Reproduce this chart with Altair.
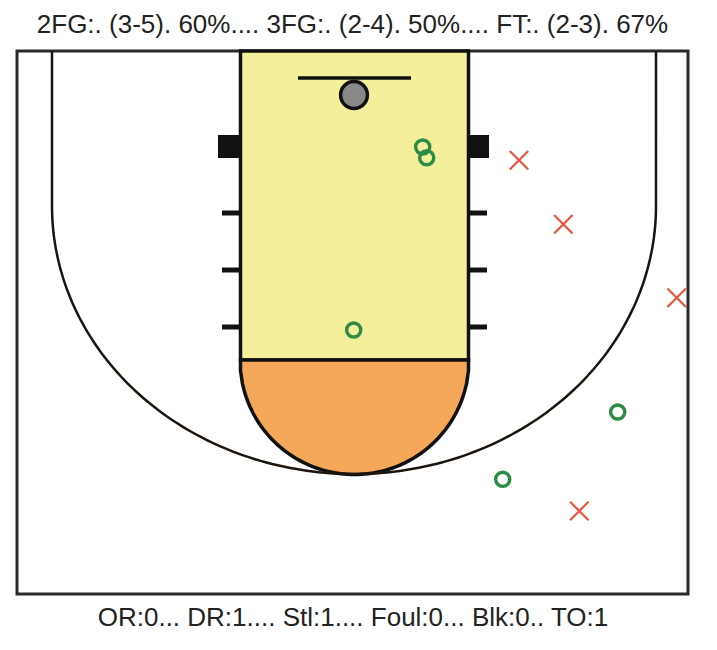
import altair as alt
import numpy as np
import pandas as pd

# Court drawn in plot units (1 unit = 1 px of the 671 x 543 plot area), y measured down from the baseline
COURT_W, COURT_H = 671, 543
LANE_X = [223.5, 451.5]
LANE_Y = [0, 309]
FT_CX, FT_R = 337.5, 114.5
BACKBOARD_X = [281, 394]
BACKBOARD_Y = [27]
RIM_X, RIM_Y = [337], [44]
BLOCK_X = [[201, 223.5], [451.5, 472]]
BLOCK_Y = [84, 107]
HASH_Y = [162, 219, 276]
HASH_X = [[205, 223.5], [451.5, 470]]
THREE_X = [35, 639]
THREE_CORNER_Y = 155
THREE_BOTTOM = 423

# Shots
made_x = [405.7, 409.7, 336.7, 600.7, 485.7]
made_y = [96.0, 106.7, 279.0, 361.0, 428.3]
miss_x = [502.0, 546.3, 659.7, 562.3]
miss_y = [109.3, 173.3, 246.7, 460.0]

title_text = "2FG:. (3-5). 60%.... 3FG:. (2-4). 50%.... FT:. (2-3). 67%"
footer_text = "OR:0... DR:1.... Stl:1.... Foul:0... Blk:0.. TO:1"

FONT = "Liberation Sans"

xscale = alt.Scale(domain=[0, COURT_W], nice=False, zero=False)
yscale = alt.Scale(domain=[0, COURT_H], nice=False, zero=False, reverse=True)
xaxis = alt.Axis(title=footer_text, labels=False, ticks=False, domain=False, grid=False,
                 titleFontSize=26, titleFont=FONT, titleFontWeight="normal",
                 titleColor="#222222", titlePadding=10)


def X(f="x"):
    return alt.X(f"{f}:Q", scale=xscale, axis=xaxis)


def Y(f="y"):
    return alt.Y(f"{f}:Q", scale=yscale, axis=None)


lane_df = pd.DataFrame({"x": [LANE_X[0]], "x2": [LANE_X[1]], "y": [LANE_Y[0]], "y2": [LANE_Y[1]]})
lane = alt.Chart(lane_df).mark_rect(fill="#F3EF9B", stroke="#111111", strokeWidth=3.5).encode(
    x=X(), x2="x2:Q", y=Y(), y2="y2:Q")

fx = np.linspace(LANE_X[0], LANE_X[1], 121)
fy = LANE_Y[1] + np.sqrt(np.clip(FT_R ** 2 - (fx - FT_CX) ** 2, 0, None))
ft_df = pd.DataFrame({"x": fx, "y": fy, "y2": LANE_Y[1]})
ft = alt.Chart(ft_df).mark_area(fill="#F5A85A", stroke="#111111", strokeWidth=3.5).encode(
    x=X(), y=Y(), y2="y2:Q")

cx = (THREE_X[0] + THREE_X[1]) / 2
a = (THREE_X[1] - THREE_X[0]) / 2
b = THREE_BOTTOM - THREE_CORNER_Y
t = np.linspace(0, np.pi, 161)
ax_ = cx - a * np.cos(t)
ay_ = THREE_CORNER_Y + b * np.sin(t)
tx = np.concatenate([[THREE_X[0]], ax_, [THREE_X[1]]])
ty = np.concatenate([[0], ay_, [0]])
three_df = pd.DataFrame({"x": tx, "y": ty, "o": np.arange(len(tx))})
three = alt.Chart(three_df).mark_line(color="#1c150d", strokeWidth=2.5).encode(
    x=X(), y=Y(), order="o:Q")

hash_rows = [{"x": hx[0], "x2": hx[1], "y": hy} for hx in HASH_X for hy in HASH_Y]
hashes = alt.Chart(pd.DataFrame(hash_rows)).mark_rule(color="#111111", strokeWidth=5).encode(
    x=X(), x2="x2:Q", y=Y())

block_rows = [{"x": bx[0], "x2": bx[1], "y": BLOCK_Y[0], "y2": BLOCK_Y[1]} for bx in BLOCK_X]
blocks = alt.Chart(pd.DataFrame(block_rows)).mark_rect(color="#111111").encode(
    x=X(), x2="x2:Q", y=Y(), y2="y2:Q")

bb_df = pd.DataFrame({"x": [BACKBOARD_X[0]], "x2": [BACKBOARD_X[1]], "y": BACKBOARD_Y})
backboard = alt.Chart(bb_df).mark_rule(color="#111111", strokeWidth=3.5).encode(
    x=X(), x2="x2:Q", y=Y())

rim_df = pd.DataFrame({"x": RIM_X, "y": RIM_Y})
rim = alt.Chart(rim_df).mark_point(shape="circle", filled=True, fill="#888888", stroke="#111111",
                                   strokeWidth=3.5, size=720, opacity=1).encode(x=X(), y=Y())

made_df = pd.DataFrame({"x": made_x, "y": made_y})
made = alt.Chart(made_df).mark_point(shape="circle", filled=False, color="#2E8B45",
                                     strokeWidth=3.4, size=200, opacity=1).encode(x=X(), y=Y())

miss_df = pd.DataFrame({"x": miss_x, "y": miss_y})
miss = alt.Chart(miss_df).mark_point(shape="M-1,-1L1,1M1,-1L-1,1", filled=False, color="#E8553F",
                                     strokeWidth=2.2, size=340, opacity=1).encode(x=X(), y=Y())

chart = alt.layer(lane, ft, three, hashes, blocks, backboard, rim, made, miss).properties(
    width=COURT_W, height=COURT_H,
    title=alt.TitleParams(title_text, fontSize=26, font=FONT, fontWeight="normal",
                          color="#222222", anchor="middle", offset=8),
    padding={"left": 9, "top": 4, "right": 5, "bottom": 5},
).configure_view(stroke="#2a2a2a", strokeWidth=3)

chart.save("out.html", embed_options={"renderer": "svg", "actions": False})
